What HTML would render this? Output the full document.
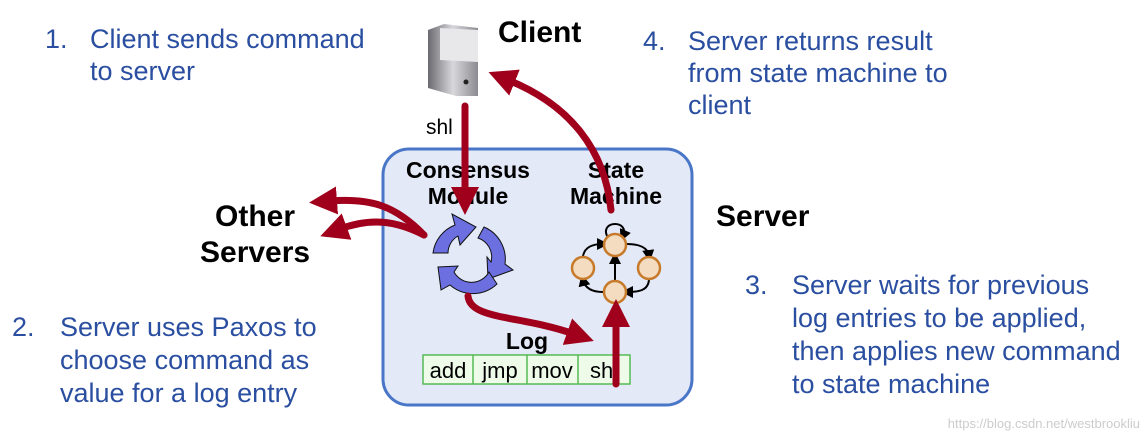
<!DOCTYPE html>
<html><head><style>
body{margin:0;background:#fff;}
svg{display:block;}
.b{font-family:"Liberation Sans",sans-serif;fill:#2a4ea0;font-size:27px;}
.k{font-family:"Liberation Sans",sans-serif;font-weight:bold;fill:#000;}
</style></head><body>
<svg width="1146" height="442" viewBox="0 0 1146 442" xmlns="http://www.w3.org/2000/svg">
<defs>
<marker id="ah" markerWidth="4" markerHeight="4" refX="1" refY="2" orient="auto" markerUnits="strokeWidth">
<path d="M0,0 L4,2 L0,4 Z" fill="#a0001c"/></marker>
<marker id="sa" markerWidth="6" markerHeight="6" refX="3" refY="3" orient="auto" markerUnits="strokeWidth">
<path d="M0,0 L6,3 L0,6 Z" fill="#000"/></marker>
<linearGradient id="srv" x1="0" x2="1"><stop offset="0" stop-color="#6a6a70"/><stop offset="0.5" stop-color="#d8d8dc"/><stop offset="1" stop-color="#8a8a90"/></linearGradient>
</defs>
<rect x="383" y="149" width="309" height="256" rx="26" fill="#e3e9f7" stroke="#4a76c8" stroke-width="3"/>
<text class="b" x="45" y="48">1.</text><text class="b" x="90" y="48">Client sends command</text>
<text class="b" x="90" y="80">to server</text>
<text class="b" x="643" y="50">4.</text><text class="b" x="688" y="50">Server returns result</text>
<text class="b" x="688" y="82">from state machine to</text>
<text class="b" x="688" y="114">client</text>
<text class="b" x="12" y="336">2.</text><text class="b" x="60" y="336">Server uses Paxos  to</text>
<text class="b" x="60" y="369">choose command as</text>
<text class="b" x="60" y="402">value for a log entry</text>
<text class="b" x="745" y="294">3.</text><text class="b" x="792" y="294">Server waits for previous</text>
<text class="b" x="792" y="327">log entries to be applied,</text>
<text class="b" x="792" y="360">then applies new command</text>
<text class="b" x="792" y="393">to state machine</text>
<text class="k" x="498" y="42" font-size="30">Client</text>
<text class="k" x="215" y="226" font-size="30">Other</text>
<text class="k" x="200" y="262" font-size="30">Servers</text>
<text class="k" x="716" y="226" font-size="30">Server</text>
<text class="k" x="468" y="178" font-size="23" text-anchor="middle">Consensus</text>
<text class="k" x="468" y="204" font-size="23" text-anchor="middle">Module</text>
<text class="k" x="616" y="178" font-size="23" text-anchor="middle">State</text>
<text class="k" x="616" y="204" font-size="23" text-anchor="middle">Machine</text>
<text class="k" x="527" y="349" font-size="23" text-anchor="middle">Log</text>
<g font-family="Liberation Sans,sans-serif" font-size="22" fill="#000">
<rect x="423" y="355" width="207" height="29" fill="#eefbe9" stroke="#55bb55" stroke-width="1.5"/>
<line x1="473" y1="355" x2="473" y2="384" stroke="#55bb55" stroke-width="1.5"/>
<line x1="527" y1="355" x2="527" y2="384" stroke="#55bb55" stroke-width="1.5"/>
<line x1="578" y1="355" x2="578" y2="384" stroke="#55bb55" stroke-width="1.5"/>
<text x="448" y="378" text-anchor="middle">add</text>
<text x="500" y="378" text-anchor="middle">jmp</text>
<text x="552" y="378" text-anchor="middle">mov</text>
<text x="604" y="378" text-anchor="middle">shl</text>
<text x="426" y="134" font-size="21">shl</text>
</g>
<path d="M428,30 L444,24 L478,28 L478,96 L456,96 L428,88 Z" fill="url(#srv)"/>
<path d="M440,28 L478,30 L478,62 L440,60 Z" fill="#e8e8ea"/>
<circle cx="466" cy="82" r="2.5" fill="#222"/>
<g stroke="#000" stroke-width="2" fill="none">
<path d="M607,236 C600,220 630,220 623,236" marker-end="url(#sa)"/>
<path d="M583,256 C585,246 594,244 603,244" marker-end="url(#sa)"/>
<path d="M627,244 C640,244 648,248 649,256" marker-end="url(#sa)"/>
<path d="M649,280 C648,290 640,292 627,292" marker-end="url(#sa)"/>
<path d="M603,292 C592,292 585,288 583,280" marker-end="url(#sa)"/>
<path d="M615,280 L615,258" marker-end="url(#sa)"/>
</g>
<g fill="#f3dcc0" stroke="#c77a2a" stroke-width="2.5">
<circle cx="615" cy="245" r="11"/><circle cx="583" cy="268" r="11"/>
<circle cx="649" cy="268" r="11"/><circle cx="615" cy="292" r="11"/>
</g>
<g fill="#6b6fe0" stroke="#111" stroke-width="1">
<path d="M433,253 A35,35 0 0 1 455,225 L452,214 L476,227 L460,245 L458,236 A20,20 0 0 0 448,253 Z"/>
<path d="M484,227 A35,35 0 0 1 505,264 L513,270 L488,279 L487,257 L491,262 A20,20 0 0 0 478,238 Z"/>
<path d="M497,284 A35,35 0 0 1 450,285 L441,290 L438,267 L458,266 L454,272 A20,20 0 0 0 489,272 Z"/>
</g>
<g stroke="#a0001c" stroke-width="7" fill="none" stroke-linecap="round">
<path d="M465,106 L465,194" marker-end="url(#ah)"/>
<path d="M611,210 C605,150 570,105 508,80" marker-end="url(#ah)"/>
<path d="M424,235 C395,205 370,198 330,201" marker-end="url(#ah)"/>
<path d="M424,235 C395,220 370,218 340,229" marker-end="url(#ah)"/>
<path d="M468,296 C470,320 520,315 574,334" marker-end="url(#ah)"/>
<path d="M616,384 L616,320" marker-end="url(#ah)"/>
</g>
<text x="1140" y="428" text-anchor="end" font-family="Liberation Sans,sans-serif" font-size="13" fill="#ccc">https://blog.csdn.net/westbrookliu</text>
</svg>
</body></html>
